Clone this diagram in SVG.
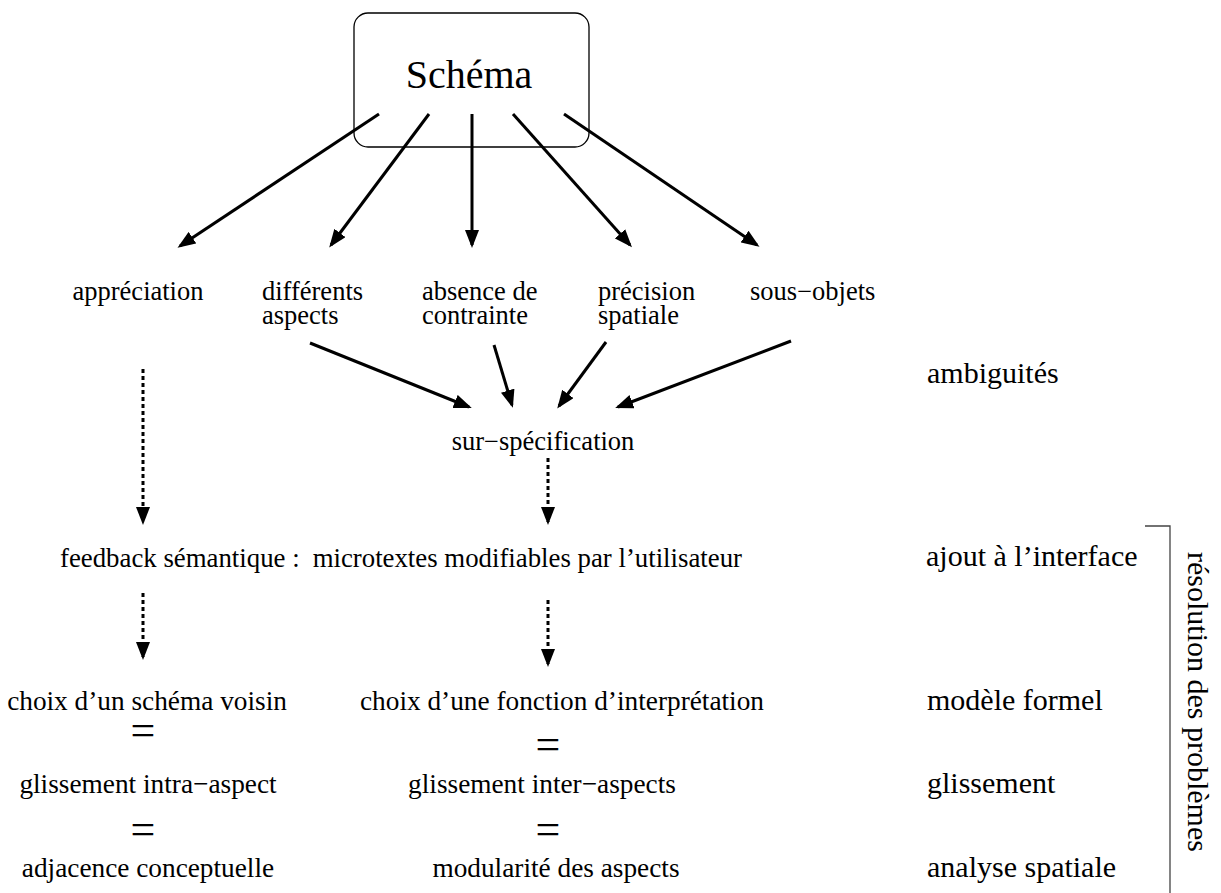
<svg xmlns="http://www.w3.org/2000/svg" width="1221" height="893" viewBox="0 0 1221 893">
<style>
text{font-family:"Liberation Serif","Times New Roman",Times,"DejaVu Serif",serif;fill:#000}
.t{font-size:26.5px}
.m{font-size:26.8px}
.l{font-size:27.3px}
.r{font-size:30px}
.eq{font-size:44px;text-anchor:middle}
.c{text-anchor:middle}
.a{stroke:#000;stroke-width:3;fill:none;marker-end:url(#ah)}
.d{stroke:#000;stroke-width:3;fill:none;stroke-dasharray:4 3;marker-end:url(#ah)}
</style>
<defs>
<marker id="ah" viewBox="0 0 18 14" refX="15" refY="7" markerWidth="18" markerHeight="14" markerUnits="userSpaceOnUse" orient="auto">
<path d="M0,0 L18,7 L0,14 z" fill="#000"/>
</marker>
</defs>
<rect width="1221" height="893" fill="#fff"/>
<g id="schema">
<rect x="354" y="13" width="235" height="134" rx="14" ry="14" fill="none" stroke="#000" stroke-width="1.3"/>
<text x="469" y="88" font-size="40" class="c">Schéma</text>
</g>
<g id="appreciation"><text class="t c" x="138" y="300">appréciation</text></g>
<g id="differents"><text class="t" x="262" y="300">différents</text><text class="t" x="262" y="324">aspects</text></g>
<g id="absence"><text class="t" x="422" y="300">absence de</text><text class="t" x="422" y="324">contrainte</text></g>
<g id="precision"><text class="t" x="598" y="300">précision</text><text class="t" x="598" y="324">spatiale</text></g>
<g id="sousobjets"><text class="t" x="750" y="300">sous−objets</text></g>
<g id="surspec"><text class="t c" x="543" y="450">sur−spécification</text></g>
<g id="feedback"><text class="m" x="60" y="567">feedback sémantique :</text><text class="m" x="742" y="567" text-anchor="end">microtextes modifiables par l’utilisateur</text></g>
<g id="choix1"><text class="l c" x="147" y="710">choix d’un schéma voisin</text></g>
<g id="choix2"><text class="l c" x="562" y="710">choix d’une fonction d’interprétation</text></g>
<g id="gliss1"><text class="l c" x="148" y="793">glissement intra−aspect</text></g>
<g id="gliss2"><text class="l c" x="542" y="793">glissement inter−aspects</text></g>
<g id="adj"><text class="l c" x="148" y="877">adjacence conceptuelle</text></g>
<g id="modul"><text class="l c" x="556" y="877">modularité des aspects</text></g>
<g id="equals">
<text class="eq" x="143" y="745">=</text>
<text class="eq" x="548" y="759">=</text>
<text class="eq" x="143" y="844">=</text>
<text class="eq" x="548" y="844">=</text>
</g>
<g id="levels">
<text class="r" x="927" y="383" font-size="27">ambiguités</text>
<text class="r" x="926" y="566">ajout à l’interface</text>
<text class="r" x="927" y="710">modèle formel</text>
<text class="r" x="927" y="793">glissement</text>
<text class="r" x="927" y="877">analyse spatiale</text>
</g>
<g id="resolution">
<polyline points="1145,526 1170,526 1170,893" fill="none" stroke="#444" stroke-width="1.3"/>
<text class="r" transform="translate(1188,552) rotate(90)" font-size="30.8">résolution des problèmes</text>
</g>
<g id="connectors">
<line class="a" x1="379" y1="114" x2="180" y2="246"/>
<line class="a" x1="429" y1="114" x2="331" y2="245"/>
<line class="a" x1="472" y1="114" x2="472" y2="245"/>
<line class="a" x1="513" y1="114" x2="630" y2="245"/>
<line class="a" x1="564" y1="114" x2="757" y2="245"/>
<line class="a" x1="310" y1="343" x2="469" y2="407"/>
<line class="a" x1="494" y1="345" x2="512" y2="405"/>
<line class="a" x1="606" y1="342" x2="559" y2="406"/>
<line class="a" x1="791" y1="341" x2="618" y2="407"/>
<line class="d" x1="143" y1="369" x2="143" y2="522"/>
<line class="d" x1="548" y1="458" x2="548" y2="522"/>
<line class="d" x1="143" y1="593" x2="143" y2="657"/>
<line class="d" x1="548" y1="600" x2="548" y2="664"/>
</g>
</svg>
